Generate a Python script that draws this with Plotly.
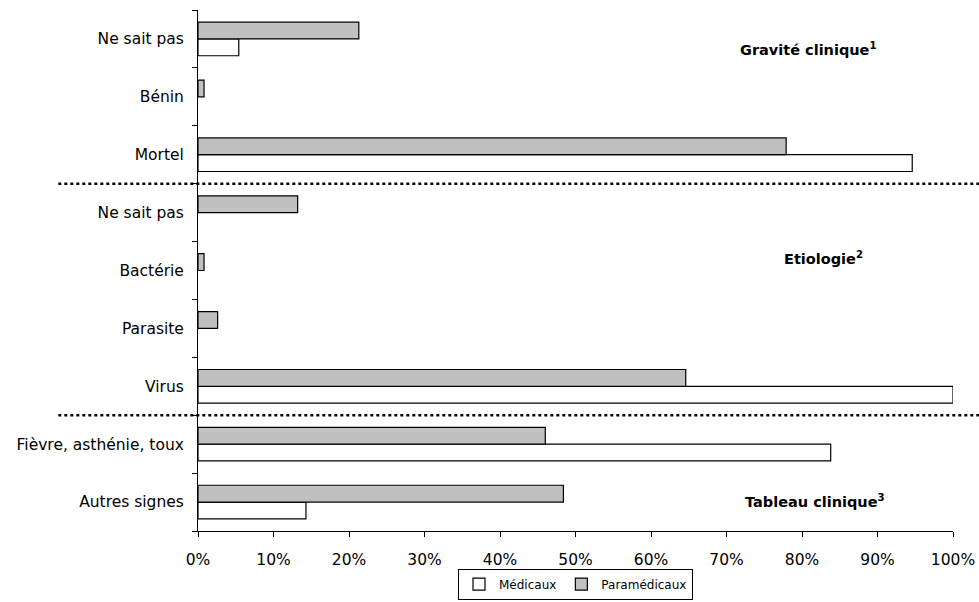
import plotly.graph_objects as go

# Categories, bottom to top
cat_ids = ["autres", "fievre", "virus", "parasite", "bacterie", "nsp_etio", "mortel", "benin", "nsp_grav"]
cat_labels = ["Autres signes", "Fièvre, asthénie, toux", "Virus", "Parasite", "Bactérie",
              "Ne sait pas", "Mortel", "Bénin", "Ne sait pas"]
groups = ["Tableau", "Tableau", "Etio", "Etio", "Etio", "Etio", "Gravite", "Gravite", "Gravite"]

# None = no bar drawn (0 / not reported)
medicaux = [14.3, 83.8, 100.0, None, None, None, 94.6, None, 5.4]
paramedicaux = [48.4, 46.0, 64.6, 2.6, 0.8, 13.2, 77.9, 0.8, 21.3]

x_ticks = list(range(0, 101, 10))

section_titles = ["Gravité clinique<sup>1</sup>", "Etiologie<sup>2</sup>", "Tableau clinique<sup>3</sup>"]

FONT = "DejaVu Sans"

fig = go.Figure()
fig.add_trace(go.Bar(y=cat_ids, x=medicaux, orientation="h", name="Médicaux",
                     marker=dict(color="white", line=dict(color="black", width=1.2))))
fig.add_trace(go.Bar(y=cat_ids, x=paramedicaux, orientation="h", name="Paramédicaux",
                     marker=dict(color="#C0C0C0", line=dict(color="black", width=1.2))))

# Dotted separators between groups
for i in range(1, len(groups)):
    if groups[i] != groups[i - 1]:
        fig.add_shape(type="line", xref="paper", yref="y", x0=-0.185, x1=1.04,
                      y0=i - 0.5, y1=i - 0.5,
                      line=dict(color="black", width=2.5, dash="dot"))

ann_pos = [(0.808, 0.925), (0.828, 0.524), (0.817, 0.058)]
for t, (ax, ay) in zip(section_titles, ann_pos):
    fig.add_annotation(text="<b>" + t + "</b>", xref="paper", yref="paper", x=ax, y=ay,
                       showarrow=False, xanchor="center", yanchor="middle",
                       font=dict(family=FONT, size=14.5, color="black"))

fig.update_layout(
    width=979, height=602,
    margin=dict(l=198, r=26, t=10, b=71, autoexpand=False),
    paper_bgcolor="white", plot_bgcolor="white",
    barmode="group", bargap=0.42, bargroupgap=0,
    font=dict(family=FONT, size=15.5, color="black"),
    legend=dict(orientation="h", x=0.5, xanchor="center", y=-0.102, yanchor="middle",
                bordercolor="black", borderwidth=1, font=dict(size=12),
                traceorder="normal", itemwidth=30, tracegroupgap=0),
    showlegend=True,
)
fig.update_xaxes(range=[0, 100], tickvals=x_ticks, ticktext=[f"{v}%" for v in x_ticks],
                 showgrid=False, zeroline=False, showline=True, linecolor="black", linewidth=1,
                 ticks="outside", ticklen=5, tickcolor="black", tickfont=dict(size=15.5),
                 ticklabelstandoff=9, automargin=False)
fig.update_yaxes(type="category", categoryorder="array", categoryarray=cat_ids,
                 tickmode="array", tickvals=cat_ids, ticktext=cat_labels,
                 tickson="boundaries", showgrid=False, zeroline=False,
                 showline=True, linecolor="black", linewidth=1,
                 ticks="outside", ticklen=5, tickcolor="black", tickfont=dict(size=15.5),
                 ticklabelstandoff=10, automargin=False)

fig.write_html("out.html")
